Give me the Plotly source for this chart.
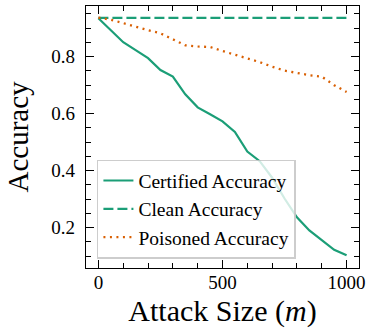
import plotly.graph_objects as go

attack_size = [0, 50, 100, 150, 200, 250, 300, 350, 400, 450, 500,
               550, 600, 650, 700, 750, 800, 850, 900, 950, 1000]
certified = [0.935, 0.893, 0.851, 0.823, 0.795, 0.753, 0.730, 0.668, 0.622, 0.598, 0.573,
             0.536, 0.467, 0.433, 0.375, 0.302, 0.236, 0.190, 0.157, 0.122, 0.103]
clean = [0.936] * 21
poisoned = [0.937, 0.930, 0.918, 0.905, 0.893, 0.882, 0.862, 0.840, 0.836, 0.834, 0.820,
            0.807, 0.795, 0.781, 0.765, 0.751, 0.743, 0.735, 0.730, 0.700, 0.676]

GREEN = "#1b9e77"
ORANGE = "#d95f02"
FONT = "Liberation Serif"

fig = go.Figure()
fig.add_trace(go.Scatter(x=attack_size, y=certified, mode="lines", name="Certified Accuracy",
                         line=dict(color=GREEN, width=2.2)))
fig.add_trace(go.Scatter(x=attack_size, y=clean, mode="lines", name="Clean Accuracy",
                         line=dict(color=GREEN, width=2.2, dash="10px,4px")))
fig.add_trace(go.Scatter(x=attack_size, y=poisoned, mode="lines", name="Poisoned Accuracy",
                         line=dict(color=ORANGE, width=2.3, dash="2px,4.5px")))

axis_common = dict(
    showline=True, linecolor="black", linewidth=1.2, mirror="allticks",
    ticks="inside", ticklen=8, tickwidth=1.1, tickcolor="black",
    showgrid=False, zeroline=False,
    tickfont=dict(family=FONT, size=19, color="black"),
)

fig.update_xaxes(
    range=[-50, 1050], tickvals=[0, 500, 1000], ticktext=["0", "500", "1000"],
    minor=dict(dtick=100, ticks="inside", ticklen=4.5, tickwidth=1, tickcolor="black"),
    title=dict(text="Attack Size (<i>m</i>)", font=dict(family=FONT, size=30, color="black"),
               standoff=8),
    ticklabelstandoff=-3,
    **axis_common,
)
fig.update_yaxes(
    range=[0.058, 0.978], tickvals=[0.2, 0.4, 0.6, 0.8], ticktext=["0.2", "0.4", "0.6", "0.8"],
    minor=dict(dtick=0.05, tick0=0, ticks="inside", ticklen=4.5, tickwidth=1, tickcolor="black"),
    title=dict(text="Accuracy", font=dict(family=FONT, size=29, color="black"), standoff=14),
    ticklabelstandoff=6,
    **axis_common,
)

fig.update_layout(
    width=371, height=331,
    margin=dict(l=86, r=12, t=6, b=63, autoexpand=False),
    plot_bgcolor="white", paper_bgcolor="white",
    font=dict(family=FONT, color="black"),
    legend=dict(
        x=0.04, y=0.035, xanchor="left", yanchor="bottom",
        bgcolor="rgba(255,255,255,0.8)", bordercolor="rgba(200,200,200,0.9)", borderwidth=1.5,
        font=dict(family=FONT, size=19.5, color="black"),
        tracegroupgap=0,
    ),
)

fig.write_html("out.html", config={"displayModeBar": False},
               post_script="document.body.style.margin='0';document.body.style.padding='0';")
